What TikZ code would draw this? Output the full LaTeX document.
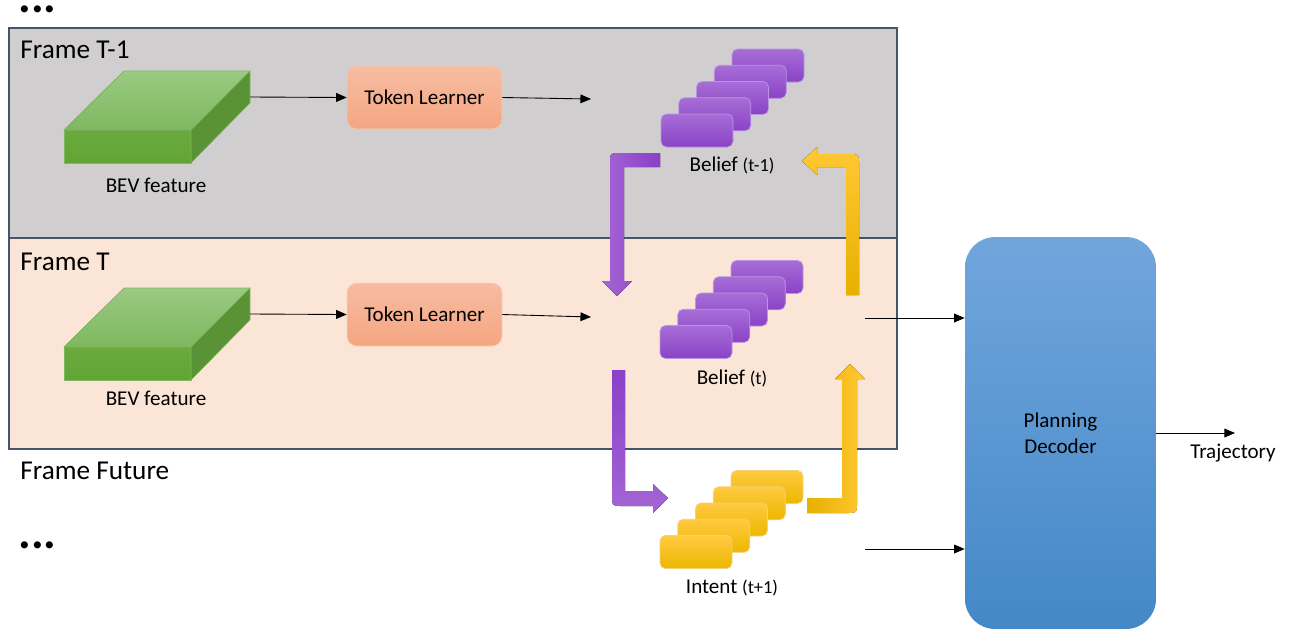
\documentclass[tikz,border=0pt]{standalone}
\usepackage{fontspec}
\setmainfont{Carlito}
\usetikzlibrary{arrows.meta}
\definecolor{grayfr}{HTML}{D0CECE}
\definecolor{peachfr}{HTML}{FBE5D6}
\definecolor{frborder}{HTML}{44546A}
\definecolor{bevtopA}{HTML}{9BCA82}
\definecolor{bevtopB}{HTML}{7DB85E}
\definecolor{bevfrontA}{HTML}{6AAA3E}
\definecolor{bevfrontB}{HTML}{62A434}
\definecolor{bevside}{HTML}{5A9236}
\definecolor{bevedge}{HTML}{80B860}
\definecolor{tlA}{HTML}{F7BCA2}
\definecolor{tlB}{HTML}{F5A681}
\definecolor{purA}{HTML}{A76ED6}
\definecolor{purB}{HTML}{8A42C6}
\definecolor{puredge}{HTML}{B996E2}
\definecolor{yelA}{HTML}{FFCA40}
\definecolor{yelB}{HTML}{EDB700}
\definecolor{yeledge}{HTML}{F2D27A}
\definecolor{decA}{HTML}{71A6DC}
\definecolor{decB}{HTML}{4488C8}
\definecolor{arrPA}{HTML}{A465D4}
\definecolor{arrPB}{HTML}{8A3FC8}
\definecolor{arrYA}{HTML}{FFC834}
\definecolor{arrYB}{HTML}{E8B000}
\tikzset{
  lbl/.style={font=\fontsize{12}{14}\selectfont, inner sep=0pt},
  framelbl/.style={font=\fontsize{15.5}{18}\selectfont, anchor=west, inner sep=0pt},
  frame/.style={draw=frborder, line width=0.7pt},
  arr/.style={draw=black, line width=0.5pt, -{Triangle[length=6pt,width=5pt]}},
  tlbox/.style={rounded corners=0.2cm, minimum width=3.1cm, minimum height=1.26cm,
    inner sep=0pt, top color=tlA, bottom color=tlB, draw=tlA!80!white, line width=0.3pt,
    font=\fontsize{12}{14}\selectfont},
  tokp/.style={rounded corners=0.11cm, minimum width=1.44cm, minimum height=0.66cm,
    inner sep=0pt, top color=purA, bottom color=purB, draw=puredge, line width=0.4pt},
  toky/.style={rounded corners=0.11cm, minimum width=1.44cm, minimum height=0.66cm,
    inner sep=0pt, top color=yelA, bottom color=yelB, draw=yeledge, line width=0.4pt},
  decbox/.style={rounded corners=0.6cm, minimum width=3.82cm, minimum height=7.84cm,
    inner sep=0pt, top color=decA, bottom color=decB, draw=none, align=center,
    font=\fontsize{12}{14.7}\selectfont},
  bev/.pic={
    \fill[top color=bevfrontA, bottom color=bevfrontB, draw=bevedge, line width=0.3pt]
      (0,0) rectangle (127,33);
    \fill[top color=bevtopA, bottom color=bevtopB, draw=bevedge, line width=0.3pt]
      (0,0) -- (60,-59) -- (186,-59) -- (127,0) -- cycle;
    \fill[bevside, draw=bevedge, line width=0.3pt]
      (127,0) -- (186,-59) -- (186,-27) -- (127,33) -- cycle;
    \coordinate (-out) at (186,-33);
  },
  dots/.style={font=\fontsize{27}{27}\selectfont\bfseries, anchor=base west, inner sep=0pt,
    text height=3.6pt, text depth=0pt}
}
\newcommand{\subtxt}[1]{{\fontsize{10.5}{12}\selectfont #1}}
\begin{document}
\begin{tikzpicture}[x=0.02cm,y=-0.02cm]
\useasboundingbox (0,0) rectangle (1294,633);
% frames
\path[frame, fill=grayfr] (9,28) rectangle (897,238);
\path[frame, fill=peachfr] (9,238) rectangle (897,449);
\node[framelbl] (f1) at (20,50) {Frame T-1};
\node[framelbl] (f0) at (20,262) {Frame T};
\node[framelbl] (ff) at (20,471) {Frame Future};
\node[dots] (dtop) at (18,12.5) {...};
\node[dots] (dbot) at (18,548.5) {...};

% BEV features
\pic (bevA) at (64,130) {bev};
\pic (bevB) at (64,347) {bev};
\node[lbl] (bevAl) at (156,185) {BEV feature};
\node[lbl] (bevBl) at (156,398) {BEV feature};

% token learners
\node[tlbox] (tlA) at (424.5,97.5) {Token Learner};
\node[tlbox] (tlB) at (424.5,314.5) {Token Learner};
\draw[arr] (bevA-out) -- (tlA.west);
\draw[arr] (bevB-out) -- (tlB.west);
\coordinate (eA) at (591,99);
\coordinate (eB) at (591,317);
\draw[arr] (tlA.east) -- (eA);
\draw[arr] (tlB.east) -- (eB);

% token stacks
\foreach \i in {4,3,2,1,0} {
  \node[tokp] (bA\i) at (697+\i*17.75,130.5-\i*16.25) {};
  \node[tokp] (bB\i) at (696+\i*17.75,342-\i*16.25) {};
  \node[toky] (iC\i) at (696+\i*17.75,552-\i*16.25) {};
}
\node[lbl] (bAl) at (732,165) {Belief \subtxt{(t-1)}};
\node[lbl] (bBl) at (732,378) {Belief \subtxt{(t)}};
\node[lbl] (iCl) at (732,588) {Intent \subtxt{(t+1)}};

% elbow arrows
\fill[left color=arrPA, right color=arrPB]
  (660,153) -- (620,153) .. controls (610,153) .. (610,163) -- (610,281) -- (602,281)
  -- (617,296) -- (632,281) -- (624,281) -- (624,167) -- (660,167) -- cycle;
\fill[top color=arrYA, bottom color=arrYB]
  (802,161) -- (817,147) -- (817,154) -- (849,154) .. controls (859,154) .. (859,164)
  -- (859,295) -- (846,295) -- (846,167) -- (817,167) -- (817,175) -- cycle;
\fill[top color=arrPB, bottom color=arrPA]
  (612,370) -- (612,496) .. controls (612,506) .. (622,506) -- (653,506) -- (653,513)
  -- (668,498) -- (653,484) -- (653,491) -- (625,491) -- (625,370) -- cycle;
\fill[left color=arrYB, right color=arrYA]
  (807,498) -- (842,498) -- (842,379) -- (835,379) -- (850,364) -- (865,379)
  -- (857,379) -- (857,503) .. controls (857,513) .. (847,513) -- (807,513) -- cycle;

% planning decoder
\node[decbox] (dec) at (1060.5,433) {Planning\\Decoder};
\coordinate (sA) at (865,318);
\coordinate (sB) at (865,549);
\draw[arr] (sA) -- (sA -| dec.west);
\draw[arr] (sB) -- (sB -| dec.west);
\coordinate (traj) at (1235,433);
\draw[arr] (dec.east |- traj) -- (traj);
\node[lbl] (trajl) at (1233,453) {Trajectory};
\end{tikzpicture}
\end{document}
